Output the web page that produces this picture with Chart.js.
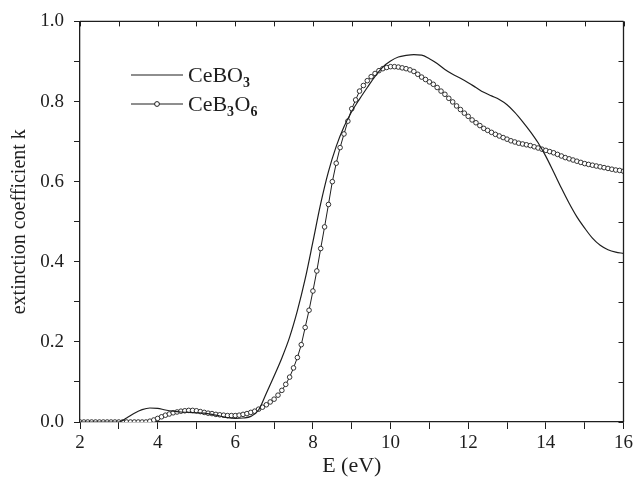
<!DOCTYPE html>
<html>
<head>
<meta charset="utf-8">
<script src="https://cdn.jsdelivr.net/npm/chart.js@4/dist/chart.umd.min.js"></script>
<style>
  html, body { margin: 0; padding: 0; background: #ffffff; }
  #wrap { width: 636px; height: 477px; }
</style>
</head>
<body>
<div id="wrap"><canvas id="c" width="636" height="477"></canvas></div>
<script>
// ---- data ----
const energyCeBO3 = [2.0, 2.5, 3.0, 3.2, 3.4, 3.6, 3.8, 4.0, 4.2, 4.4, 4.6, 4.8, 5.0, 5.2, 5.4, 5.6, 5.8, 6.0, 6.2, 6.4, 6.6, 6.8, 7.0, 7.2, 7.4, 7.6, 7.8, 8.0, 8.2, 8.4, 8.6, 8.8, 9.0, 9.2, 9.4, 9.6, 9.8, 10.0, 10.2, 10.4, 10.6, 10.8, 11.0, 11.2, 11.4, 11.6, 11.8, 12.0, 12.2, 12.4, 12.6, 12.8, 13.0, 13.2, 13.4, 13.6, 13.8, 14.0, 14.2, 14.4, 14.6, 14.8, 15.0, 15.2, 15.4, 15.6, 15.8, 16.0];
const kCeBO3 = [0, 0, 0, 0.010, 0.022, 0.031, 0.035, 0.034, 0.030, 0.027, 0.025, 0.024, 0.023, 0.022, 0.019, 0.015, 0.011, 0.009, 0.010, 0.014, 0.030, 0.072, 0.115, 0.160, 0.212, 0.278, 0.357, 0.450, 0.545, 0.625, 0.688, 0.737, 0.775, 0.806, 0.835, 0.863, 0.886, 0.901, 0.911, 0.915, 0.917, 0.916, 0.907, 0.895, 0.880, 0.868, 0.858, 0.847, 0.835, 0.823, 0.814, 0.805, 0.792, 0.773, 0.750, 0.725, 0.697, 0.663, 0.624, 0.584, 0.546, 0.512, 0.484, 0.459, 0.441, 0.430, 0.424, 0.421];

const energyCeB3O6 = [2.0, 2.1, 2.2, 2.3, 2.4, 2.5, 2.6, 2.7, 2.8, 2.9, 3.0, 3.1, 3.2, 3.3, 3.4, 3.5, 3.6, 3.7, 3.8, 3.9, 4.0, 4.1, 4.2, 4.3, 4.4, 4.5, 4.6, 4.7, 4.8, 4.9, 5.0, 5.1, 5.2, 5.3, 5.4, 5.5, 5.6, 5.7, 5.8, 5.9, 6.0, 6.1, 6.2, 6.3, 6.4, 6.5, 6.6, 6.7, 6.8, 6.9, 7.0, 7.1, 7.2, 7.3, 7.4, 7.5, 7.6, 7.7, 7.8, 7.9, 8.0, 8.1, 8.2, 8.3, 8.4, 8.5, 8.6, 8.7, 8.8, 8.9, 9.0, 9.1, 9.2, 9.3, 9.4, 9.5, 9.6, 9.7, 9.8, 9.9, 10.0, 10.1, 10.2, 10.3, 10.4, 10.5, 10.6, 10.7, 10.8, 10.9, 11.0, 11.1, 11.2, 11.3, 11.4, 11.5, 11.6, 11.7, 11.8, 11.9, 12.0, 12.1, 12.2, 12.3, 12.4, 12.5, 12.6, 12.7, 12.8, 12.9, 13.0, 13.1, 13.2, 13.3, 13.4, 13.5, 13.6, 13.7, 13.8, 13.9, 14.0, 14.1, 14.2, 14.3, 14.4, 14.5, 14.6, 14.7, 14.8, 14.9, 15.0, 15.1, 15.2, 15.3, 15.4, 15.5, 15.6, 15.7, 15.8, 15.9, 16.0];
const kCeB3O6 = [0, 0, 0, 0, 0, 0, 0, 0, 0, 0, 0, 0, 0, 0, 0, 0, 0, 0,
  0.002, 0.005, 0.009, 0.013, 0.017, 0.020, 0.023, 0.025, 0.027, 0.028, 0.029, 0.029,
  0.028, 0.026, 0.024, 0.022, 0.021, 0.019, 0.018, 0.017, 0.016, 0.016,
  0.016, 0.017, 0.019, 0.021, 0.024, 0.027, 0.032, 0.037, 0.043, 0.050,
  0.057, 0.067, 0.079, 0.094, 0.112, 0.135, 0.161, 0.193, 0.236, 0.279,
  0.327, 0.377, 0.433, 0.487, 0.543, 0.600, 0.646, 0.685, 0.719, 0.751,
  0.782, 0.804, 0.826, 0.840, 0.852, 0.862, 0.870, 0.877, 0.882, 0.885,
  0.887, 0.887, 0.886, 0.884, 0.882, 0.879, 0.875, 0.868, 0.861, 0.855,
  0.849, 0.843, 0.835, 0.826, 0.818, 0.808, 0.799, 0.789, 0.780, 0.771,
  0.763, 0.754, 0.747, 0.740, 0.733, 0.728, 0.723, 0.718, 0.714, 0.710,
  0.706, 0.702, 0.699, 0.696, 0.694, 0.692, 0.690, 0.687, 0.684, 0.681,
  0.678, 0.675, 0.672, 0.668, 0.664, 0.660, 0.657, 0.654, 0.651, 0.648,
  0.645, 0.643, 0.641, 0.639, 0.637, 0.635, 0.633, 0.631, 0.629, 0.628, 0.626];

const xTickLabels = ['2', '4', '6', '8', '10', '12', '14', '16'];
const yTickLabels = ['0.0', '0.2', '0.4', '0.6', '0.8', '1.0'];
const seriesNames = ['CeBO', 'CeB'];

// ---- chart ----
const INK = '#1e1e1e';
const FONT = '"Liberation Serif", "Times New Roman", serif';
const FS = 19;      // tick labels
const FT = 22;      // x title / legend
const FY = 20;      // y title

const framePlugin = {
  id: 'frame',
  afterDatasetsDraw(chart) {
    const { ctx, chartArea: a, scales } = chart;
    const xs = scales.x, ys = scales.y;
    ctx.save();
    ctx.strokeStyle = INK;
    ctx.lineWidth = 1.3;
    ctx.beginPath();
    ctx.moveTo(a.left, a.top); ctx.lineTo(a.right, a.top);
    ctx.moveTo(a.right, a.top); ctx.lineTo(a.right, a.bottom);
    ctx.stroke();
    ctx.lineWidth = 1;
    ctx.beginPath();
    xs.ticks.forEach(t => {
      const px = Math.round(xs.getPixelForValue(t.value)) + 0.5;
      ctx.moveTo(px, a.top); ctx.lineTo(px, a.top + 5);
    });
    ys.ticks.forEach(t => {
      const py = Math.round(ys.getPixelForValue(t.value)) + 0.5;
      ctx.moveTo(a.right, py); ctx.lineTo(a.right - 5, py);
    });
    ctx.stroke();
    ctx.restore();
  }
};

const legendPlugin = {
  id: 'subLegend',
  afterDraw(chart) {
    const { ctx } = chart;
    ctx.save();
    ctx.strokeStyle = INK;
    ctx.fillStyle = INK;
    ctx.lineWidth = 1.2;
    ctx.beginPath(); ctx.moveTo(131, 75); ctx.lineTo(183, 75); ctx.stroke();
    ctx.lineWidth = 1;
    ctx.beginPath(); ctx.moveTo(131, 104); ctx.lineTo(183, 104); ctx.stroke();
    ctx.beginPath(); ctx.arc(157, 104, 2.4, 0, Math.PI * 2);
    ctx.fillStyle = '#fff'; ctx.fill(); ctx.stroke();
    ctx.fillStyle = INK;
    ctx.textBaseline = 'alphabetic';
    const big = FT + 'px ' + FONT, small = 'bold 14px ' + FONT;
    function run(x, y, parts) {
      parts.forEach(p => {
        ctx.font = p.sub ? small : big;
        ctx.fillText(p.t, x, p.sub ? y + 5 : y);
        x += ctx.measureText(p.t).width + (p.sub ? 0.5 : 0);
      });
    }
    run(188, 82, [{ t: seriesNames[0] }, { t: '3', sub: true }]);
    run(188, 111, [{ t: seriesNames[1] }, { t: '3', sub: true }, { t: 'O' }, { t: '6', sub: true }]);
    ctx.restore();
  }
};

new Chart(document.getElementById('c'), {
  type: 'line',
  data: {
    datasets: [
      {
        label: 'CeBO3',
        data: energyCeBO3.map((x, i) => ({ x, y: kCeBO3[i] })),
        borderColor: INK,
        borderWidth: 1.2,
        pointRadius: 0,
        cubicInterpolationMode: 'monotone',
        fill: false
      },
      {
        label: 'CeB3O6',
        data: energyCeB3O6.map((x, i) => ({ x, y: kCeB3O6[i] })),
        borderColor: INK,
        borderWidth: 1,
        pointRadius: 2.3,
        pointBorderWidth: 0.9,
        pointBackgroundColor: '#ffffff',
        pointBorderColor: INK,
        tension: 0,
        fill: false
      }
    ]
  },
  options: {
    responsive: false,
    animation: false,
    devicePixelRatio: 1,
    layout: { padding: { top: 19, right: 12, left: 0, bottom: 0 } },
    plugins: { legend: { display: false }, tooltip: { enabled: false } },
    scales: {
      x: {
        type: 'linear',
        min: 2, max: 16,
        afterFit(s) { s.height = 55; },
        title: { display: true, text: 'E (eV)', color: INK, font: { family: FONT, size: FT }, padding: { top: 0, bottom: -2 } },
        ticks: {
          stepSize: 1,
          color: INK,
          font: { family: FONT, size: FS },
          padding: 3,
          maxRotation: 0,
          autoSkip: false,
          callback: (v) => (Number.isInteger(v) && v % 2 === 0) ? xTickLabels[(v - 2) / 2] : ''
        },
        grid: { drawOnChartArea: false, drawTicks: true, tickLength: 7, color: INK, lineWidth: 1 },
        border: { display: true, color: INK, width: 1.3 }
      },
      y: {
        type: 'linear',
        min: 0, max: 1,
        afterFit(s) { s.width = 80; },
        title: { display: true, text: 'extinction coefficient k', color: INK, font: { family: FONT, size: FY }, padding: { top: 8, bottom: 0 } },
        ticks: {
          stepSize: 0.1,
          color: INK,
          font: { family: FONT, size: FS },
          padding: 10,
          autoSkip: false,
          callback: (v) => {
            const n = Math.round(v * 10);
            return n % 2 === 0 ? yTickLabels[n / 2] : '';
          }
        },
        grid: { drawOnChartArea: false, drawTicks: true, tickLength: 6, color: INK, lineWidth: 1 },
        border: { display: true, color: INK, width: 1.3 }
      }
    }
  },
  plugins: [framePlugin, legendPlugin]
});
</script>
</body>
</html>
